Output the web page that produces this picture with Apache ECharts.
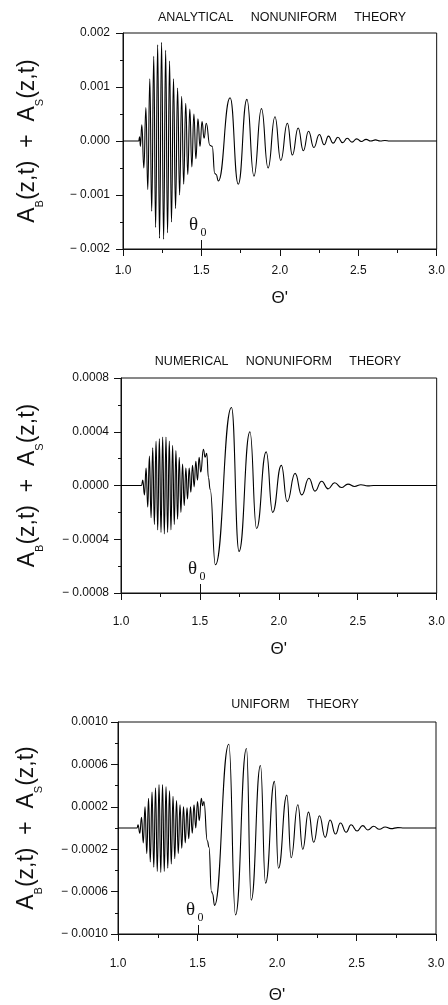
<!DOCTYPE html>
<html>
<head>
<meta charset="utf-8">
<script src="https://cdn.jsdelivr.net/npm/echarts@6/dist/echarts.min.js"></script>
<style>
  html, body { margin: 0; padding: 0; background: #fff; }
  #chart { width: 448px; height: 1005px; }
</style>
</head>
<body>
<div id="chart"></div>
<script>
// [Θ', A_B + A_S]: peaks and troughs of the trace
const analytical = [
  [1.0, 0], [1.1, 0], [1.106, 0.00008], [1.111, -0.0001],
  [1.12, 0.0003], [1.133, -0.0005], [1.146, 0.00062], [1.158, -0.0009],
  [1.171, 0.00115], [1.183, -0.0013], [1.196, 0.00157], [1.208, -0.0016],
  [1.221, 0.00178], [1.233, -0.0018], [1.246, 0.00183], [1.259, -0.00182],
  [1.272, 0.00168], [1.284, -0.0017], [1.297, 0.00148], [1.309, -0.0015],
  [1.322, 0.00115], [1.335, -0.00125], [1.348, 0.00098], [1.361, -0.001],
  [1.374, 0.00083], [1.387, -0.0008], [1.4, 0.0007], [1.413, -0.00062],
  [1.426, 0.00059], [1.439, -0.00048], [1.452, 0.0005], [1.465, -0.00033],
  [1.478, 0.00041], [1.491, -0.0001], [1.504, 0.00036], [1.517, 0.00005],
  [1.531, 0.00033], [1.554, -0.00008], [1.569, -0.0001], [1.585, -0.0006],
  [1.594, -0.00062], [1.608, -0.00074], [1.683, 0.0008], [1.735, -0.0008],
  [1.79, 0.00077], [1.835, -0.00065], [1.883, 0.0006], [1.925, -0.0005],
  [1.969, 0.00045], [2.006, -0.00036], [2.048, 0.00033], [2.08, -0.00026],
  [2.117, 0.00024], [2.15, -0.00018], [2.183, 0.00018], [2.217, -0.00012],
  [2.252, 0.00012], [2.283, -0.00007], [2.31, 0.00009], [2.34, -0.00004],
  [2.37, 0.00007], [2.4, -0.00003], [2.43, 0.00005], [2.46, -0.00002],
  [2.49, 0.00004], [2.52, -0.00001], [2.55, 0.00003], [2.58, 0],
  [2.61, 0.00002], [2.64, 0], [2.67, 0.00001], [2.7, 0], [3.0, 0]
];

const numerical = [
  [1.0, 0], [1.13, 0], [1.138, 0.00004], [1.1485, -0.00007],
  [1.159, 0.00013], [1.1695, -0.00016], [1.18, 0.00022], [1.1905, -0.00024],
  [1.201, 0.00028], [1.2115, -0.00029], [1.222, 0.00033], [1.2325, -0.00033],
  [1.243, 0.00035], [1.2535, -0.00035], [1.264, 0.00036], [1.2745, -0.00036],
  [1.285, 0.00036], [1.2955, -0.00035], [1.306, 0.00033], [1.3165, -0.00033],
  [1.327, 0.0003], [1.3375, -0.00029], [1.348, 0.00026], [1.3585, -0.00025],
  [1.369, 0.00021], [1.3795, -0.0002], [1.39, 0.00016], [1.4005, -0.00015],
  [1.411, 0.00013], [1.4215, -0.0001], [1.432, 0.00013], [1.4425, -0.00005],
  [1.453, 0.00015], [1.4635, -0.00001], [1.474, 0.00018], [1.4845, 0.00004],
  [1.495, 0.00021], [1.5055, 0.0001], [1.522, 0.00027], [1.533, 0.00021],
  [1.543, 0.00024], [1.554, 0.00006], [1.565, -0.00003], [1.598, -0.00059],
  [1.7, 0.00058], [1.748, -0.00049], [1.817, 0.0004], [1.859, -0.00032],
  [1.92, 0.00025], [1.961, -0.0002], [2.016, 0.00015], [2.053, -0.00012],
  [2.103, 0.00009], [2.145, -0.00007], [2.191, 0.000054], [2.229, -0.000042],
  [2.271, 0.000032], [2.312, -0.000025], [2.354, 0.00002], [2.396, -0.000015],
  [2.438, 0.00001], [2.48, -0.000007], [2.52, 0.000006], [2.563, -0.000003],
  [2.6, 0], [3.0, 0]
];

const uniform = [
  [1.0, 0], [1.12, 0], [1.126, 0.00003], [1.137, -0.00005],
  [1.148, 0.0001], [1.159, -0.00014], [1.17, 0.0002], [1.181, -0.00024],
  [1.192, 0.00028], [1.203, -0.00032], [1.214, 0.00034], [1.225, -0.00037],
  [1.236, 0.00038], [1.247, -0.00041], [1.258, 0.00041], [1.269, -0.00042],
  [1.28, 0.00041], [1.291, -0.00041], [1.302, 0.00039], [1.313, -0.00038],
  [1.324, 0.00035], [1.335, -0.00034], [1.346, 0.0003], [1.357, -0.00029],
  [1.368, 0.00026], [1.379, -0.00024], [1.39, 0.00022], [1.401, -0.00019],
  [1.412, 0.0002], [1.423, -0.00014], [1.434, 0.00019], [1.445, -0.0001],
  [1.456, 0.0002], [1.467, -0.00005], [1.478, 0.00022], [1.489, 0],
  [1.5, 0.00025], [1.511, 0.00007], [1.524, 0.00028], [1.532, 0.00021],
  [1.54, 0.00025], [1.562, -0.00012], [1.572, -0.00018], [1.588, -0.0006],
  [1.595, -0.00062], [1.607, -0.00073], [1.697, 0.00079], [1.739, -0.00082],
  [1.808, 0.00075], [1.838, -0.00068], [1.896, 0.00059], [1.928, -0.00052],
  [1.984, 0.00044], [2.009, -0.00038], [2.062, 0.00031], [2.089, -0.00028],
  [2.131, 0.00022], [2.162, -0.0002], [2.198, 0.00015], [2.231, -0.000135],
  [2.267, 0.000116], [2.303, -0.000088], [2.334, 0.000075], [2.368, -0.000057],
  [2.399, 0.000047], [2.435, -0.00004], [2.466, 0.00003], [2.504, -0.000028],
  [2.539, 0.000022], [2.571, -0.000019], [2.608, 0.000016], [2.644, -0.000012],
  [2.68, 0.00001], [2.717, -0.000006], [2.76, 0.000004], [2.8, 0], [3.0, 0]
];

const xTickLabels = ['1.0', '1.5', '2.0', '2.5', '3.0'];
const yLabelsAnalytical = ['\u2212 0.002', '\u2212 0.001', '0.000', '0.001', '0.002'];
const yLabelsNumerical = ['\u2212 0.0008', '\u2212 0.0004', '0.0000', '0.0004', '0.0008'];
const yLabelsUniform = ['\u2212 0.0010', '\u2212 0.0006', '\u2212 0.0002', '0.0002', '0.0006', '0.0010'];
const titles = [
  'ANALYTICAL     NONUNIFORM     THEORY',
  'NUMERICAL     NONUNIFORM     THEORY',
  'UNIFORM     THEORY'
];
const theta0 = 1.5;

const FONT = "'Liberation Sans', Arial, Helvetica, sans-serif";
const SERIF = "'Liberation Serif', 'Times New Roman', serif";
const INK = '#111';

const panels = [
  { data: analytical, title: titles[0], yMin: -0.002, yMax: 0.002, yStep: 0.001, yLabels: yLabelsAnalytical,
    grid: { left: 123, top: 33, width: 320, height: 216 }, titleAt: [282, 17.5],
    xLabelMargin: 16, xNameGap: 41, yLabelMargin: 13, yNameGap: 78 },
  { data: numerical, title: titles[1], yMin: -0.0008, yMax: 0.0008, yStep: 0.0004, yLabels: yLabelsNumerical,
    grid: { left: 121, top: 378, width: 319, height: 215 }, titleAt: [278, 361.5],
    xLabelMargin: 23, xNameGap: 48, yLabelMargin: 12, yNameGap: 76 },
  { data: uniform, title: titles[2], yMin: -0.001, yMax: 0.001, yStep: 0.0004, yLabels: yLabelsUniform,
    grid: { left: 118, top: 722, width: 318, height: 212 }, titleAt: [295, 705],
    xLabelMargin: 24, xNameGap: 53, yLabelMargin: 10, yNameGap: 74 }
];

const chart = echarts.init(document.getElementById('chart'));

chart.setOption({
  animation: false,
  backgroundColor: '#fff',
  grid: panels.map(p => Object.assign({ show: true, borderColor: INK, borderWidth: 1 }, p.grid)),
  xAxis: panels.map((p, i) => ({
    type: 'value', gridIndex: i, min: 1, max: 3, interval: 0.5,
    name: "\u0398'", nameLocation: 'middle', nameGap: p.xNameGap,
    nameTextStyle: { fontFamily: FONT, fontSize: 17, color: INK },
    axisLine: { onZero: false, lineStyle: { color: INK, width: 1 } },
    axisTick: { length: 7, lineStyle: { color: INK } },
    minorTick: { show: true, splitNumber: 2, length: 4, lineStyle: { color: INK } },
    axisLabel: {
      margin: p.xLabelMargin, fontFamily: FONT, fontSize: 12, color: INK,
      formatter: v => xTickLabels[Math.round((v - 1) / 0.5)]
    },
    splitLine: { show: false }, minorSplitLine: { show: false }
  })),
  yAxis: panels.map((p, i) => ({
    type: 'value', gridIndex: i, min: p.yMin, max: p.yMax, interval: p.yStep,
    name: '{m|A}{s|B}{m|(z,t)  +  A}{s|S}{m|(z,t)}',
    nameLocation: 'middle', nameRotate: 90, nameGap: p.yNameGap,
    nameTextStyle: {
      rich: {
        m: { fontFamily: FONT, fontSize: 23, color: INK, lineHeight: 26, verticalAlign: 'top' },
        s: { fontFamily: FONT, fontSize: 11, color: INK, lineHeight: 29, verticalAlign: 'bottom' }
      }
    },
    axisLine: { lineStyle: { color: INK, width: 1 } },
    axisTick: { length: 7, lineStyle: { color: INK } },
    minorTick: { show: true, splitNumber: 2, length: 3, lineStyle: { color: INK } },
    axisLabel: {
      margin: p.yLabelMargin, fontFamily: FONT, fontSize: 12, color: INK,
      formatter: v => p.yLabels[Math.round((v - p.yMin) / p.yStep)]
    },
    splitLine: { show: false }, minorSplitLine: { show: false }
  })),
  series: panels.map((p, i) => ({
    type: 'line', xAxisIndex: i, yAxisIndex: i, data: p.data,
    symbol: 'none', showSymbol: false, silent: true,
    smooth: 0.5, smoothMonotone: 'x',
    lineStyle: { color: '#000', width: 1.1 }
  }))
});

// titles and the theta_0 marker on each x axis
const graphics = [];
panels.forEach((p, i) => {
  graphics.push({
    type: 'text', x: p.titleAt[0], y: p.titleAt[1], silent: true,
    style: { text: p.title, fontFamily: FONT, fontSize: 12.5, fill: INK,
      align: 'center', verticalAlign: 'middle', textAlign: 'center', textVerticalAlign: 'middle' }
  });
  const pt = chart.convertToPixel({ gridIndex: i }, [theta0, p.yMin]);
  const x = Math.round(pt[0]) + 0.5;
  const y = Math.round(pt[1]);
  graphics.push({
    type: 'line', silent: true,
    shape: { x1: x, y1: y, x2: x, y2: y - 9 },
    style: { stroke: INK, lineWidth: 1 }
  });
  graphics.push({
    type: 'text', x: x - 8, y: y - 24, silent: true,
    style: { text: '\u03b8', fontFamily: SERIF, fontSize: 19, fill: INK,
      align: 'center', verticalAlign: 'middle', textAlign: 'center', textVerticalAlign: 'middle' }
  });
  graphics.push({
    type: 'text', x: x + 2, y: y - 16, silent: true,
    style: { text: '0', fontFamily: SERIF, fontSize: 12, fill: INK,
      align: 'center', verticalAlign: 'middle', textAlign: 'center', textVerticalAlign: 'middle' }
  });
});
chart.setOption({ graphic: graphics });
</script>
</body>
</html>
